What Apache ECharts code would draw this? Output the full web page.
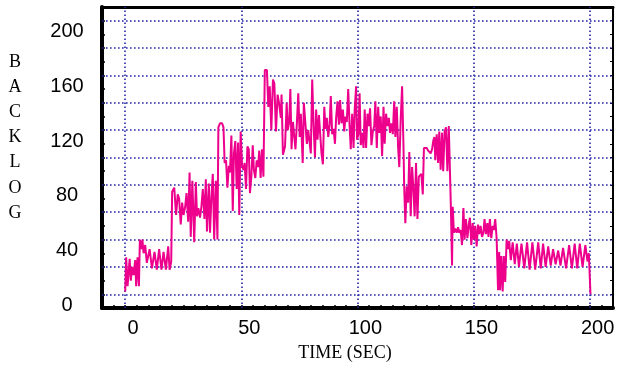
<!DOCTYPE html>
<html><head><meta charset="utf-8">
<script src="https://cdn.jsdelivr.net/npm/echarts@6/dist/echarts.min.js"></script>
<style>html,body{margin:0;padding:0;background:#fff}#c{width:620px;height:365px}</style>
</head><body><div id="c"></div>
<script>
// Time stamps (seconds)
const timeSec = [
0.0,0.4,1.0,1.9,2.4,3.0,3.6,4.3,4.7,5.3,5.9,6.3,
6.9,7.4,7.9,8.6,9.3,10.5,11.5,12.6,13.6,14.6,15.6,16.5,17.5,18.5,19.1,19.8,
20.2,21.1,21.9,22.6,23.2,23.9,24.5,25.1,25.8,26.4,27.1,27.7,28.2,28.9,29.7,30.4,30.9,31.5,32.2,32.8,33.4,34.1,34.7,35.2,36.0,36.5,37.1,37.7,38.3,39.0,39.7,
40.1,40.8,41.7,42.3,42.8,43.4,44.0,44.6,45.1,45.7,46.3,46.8,47.4,48.0,48.6,49.1,49.7,50.3,50.9,51.4,52.0,52.6,53.2,53.7,54.3,54.9,55.4,56.0,56.6,57.2,57.7,58.3,58.9,59.5,
60.1,61.0,61.6,62.2,62.9,63.6,64.2,64.9,65.6,66.2,67.0,67.3,67.9,68.8,69.5,70.0,70.6,71.1,71.6,72.2,72.8,73.3,73.9,74.5,75.1,75.6,76.4,76.9,77.6,78.2,78.8,79.4,79.9,
80.5,81.1,81.7,82.2,82.8,83.4,83.9,84.5,85.1,85.7,86.2,86.8,87.4,88.0,88.5,89.1,89.7,90.3,90.8,91.4,92.0,92.5,93.1,93.7,94.3,94.8,95.4,96.0,96.6,97.1,97.7,98.3,98.8,99.4,99.8,
100.4,100.9,101.4,102.0,102.6,103.1,103.7,104.3,104.9,105.4,106.0,106.6,107.2,107.7,108.3,108.9,109.4,110.0,110.6,111.2,111.7,112.3,112.9,113.5,114.0,114.6,115.2,115.8,116.3,116.9,117.5,118.0,118.6,119.2,119.8,
120.1,120.6,121.2,121.8,122.3,122.9,123.5,124.1,124.6,125.2,125.8,126.4,126.9,127.5,128.1,128.6,129.2,129.8,130.4,131.0,131.5,132.1,132.6,133.1,133.5,134.1,134.7,135.2,135.8,136.4,136.9,137.5,138.1,138.7,139.3,139.8,140.2,
140.7,141.0,141.5,142.1,142.7,143.3,143.8,144.4,145.0,145.6,146.1,146.7,147.3,147.9,148.4,149.0,149.6,150.1,150.7,151.3,151.9,152.4,153.0,153.6,154.2,154.7,155.3,155.9,156.4,157.0,157.6,158.2,158.7,159.3,159.9,
160.5,161.0,161.4,161.9,162.5,163.0,163.6,164.2,164.8,165.3,166.0,166.8,167.7,168.6,169.5,170.6,171.8,173.0,174.1,175.3,176.5,177.8,178.9,179.9,181.0,182.1,183.2,184.2,185.3,186.4,187.4,188.5,189.8,191.1,192.3,193.5,194.6,195.7,196.9,198.1,199.0,199.6,200.3
];
// Backlog values
const backlog = [
2,27,6,26,10,20,14,25,6,27,6,40,
33,40,30,36,23,33,19,31,18,33,18,31,18,35,18,24,
75,78,58,73,70,51,67,58,64,74,53,89,42,83,38,82,57,63,56,64,77,55,84,46,81,45,71,88,40,83,40,
122,125,125,122,96,98,78,94,89,116,61,103,112,77,111,58,119,94,91,96,77,108,106,74,86,109,91,85,98,93,105,85,106,86,
164,164,137,152,120,157,154,119,146,140,129,146,102,108,140,120,126,150,106,126,115,106,125,147,115,132,96,140,124,110,120,119,103,
157,123,100,135,113,131,118,103,95,137,121,129,115,124,145,117,121,110,129,141,124,142,125,135,119,130,126,150,123,106,132,107,135,152,113,
117,147,109,118,107,135,107,132,123,136,109,119,123,141,107,137,118,130,101,137,110,132,123,129,118,125,117,141,115,137,107,93,128,152,108,
79,52,79,67,104,57,93,76,57,96,55,86,87,88,73,107,106,107,105,106,103,106,112,115,98,117,96,119,91,118,90,119,122,90,123,90,64,
21,64,45,48,45,49,45,47,36,63,40,55,41,51,56,36,52,40,50,35,51,44,50,42,45,55,44,52,42,55,41,50,47,55,41,
3,31,3,28,2,28,9,40,33,39,25,38,22,37,20,37,19,38,18,38,18,38,19,37,20,35,21,33,22,32,21,34,19,36,19,37,19,37,20,36,24,30,0
];
const xTickLabels = [0, 50, 100, 150, 200];
const yTickLabels = [0, 40, 80, 120, 160, 200];
const xGridValues = [0, 50, 100, 150, 200];
const yGridValues = [0, 20, 40, 60, 80, 100, 120, 140, 160, 180, 200];
const xTitle = 'TIME (SEC)';
const yTitle = 'BACKLOG';

// layout: the reference draws its tick labels slightly offset from the grid lines
const X_MIN = -10, X_MAX = 210, Y_MIN = -10, Y_MAX = 210;
const X_LABEL_SHIFT = -3.4;   // axis units (labels appear ~8px right of grid lines)
const Y_LABEL_SHIFT = 8;      // axis units (labels appear ~11px below grid lines)

const seriesData = timeSec.map((t, i) => [t, backlog[i]]);
const gridStyle = { color: '#2424a8', width: 1.6, type: [1.6, 2.4] };
const markData = xGridValues.map(v => ({ xAxis: v })).concat(yGridValues.map(v => ({ yAxis: v })));
const font = 'Liberation Sans, Arial, sans-serif';
const noLine = { show: false, onZero: false };

const chart = echarts.init(document.getElementById('c'), null, { renderer: 'canvas' });
chart.setOption({
  animation: false,
  backgroundColor: '#ffffff',
  grid: { left: 102, width: 511, top: 7, height: 301, containLabel: false },
  xAxis: [
    { type: 'value', position: 'bottom', min: X_MIN, max: X_MAX, interval: 5,
      axisLine: { show: true, onZero: false, lineStyle: { color: '#000', width: 4 } },
      axisTick: { show: true, inside: true, length: 3, lineStyle: { color: '#000', width: 1.5 } },
      axisLabel: { show: false }, splitLine: { show: false } },
    { type: 'value', position: 'top', min: X_MIN, max: X_MAX,
      axisLine: { show: true, onZero: false, lineStyle: { color: '#000', width: 3 } },
      axisTick: { show: false }, axisLabel: { show: false }, splitLine: { show: false } },
    { type: 'value', position: 'bottom', min: X_MIN + X_LABEL_SHIFT, max: X_MAX + X_LABEL_SHIFT,
      axisLine: noLine, axisTick: { show: false }, splitLine: { show: false },
      axisLabel: { show: true, customValues: xTickLabels, color: '#000', fontSize: 20,
        fontFamily: font, margin: 10 } }
  ],
  yAxis: [
    { type: 'value', position: 'left', min: Y_MIN, max: Y_MAX, interval: 10,
      axisLine: { show: true, onZero: false, lineStyle: { color: '#000', width: 4 } },
      axisTick: { show: true, inside: true, length: 3, lineStyle: { color: '#000', width: 1.5 } },
      axisLabel: { show: false }, splitLine: { show: false } },
    { type: 'value', position: 'right', min: Y_MIN, max: Y_MAX, interval: 10,
      axisLine: { show: true, onZero: false, lineStyle: { color: '#000', width: 2 } },
      axisTick: { show: true, inside: true, length: 3, lineStyle: { color: '#000', width: 1 } },
      axisLabel: { show: false }, splitLine: { show: false } },
    { type: 'value', position: 'left', min: Y_MIN + Y_LABEL_SHIFT, max: Y_MAX + Y_LABEL_SHIFT,
      axisLine: noLine, axisTick: { show: false }, splitLine: { show: false },
      axisLabel: { show: true, customValues: yTickLabels, color: '#000', fontSize: 20,
        fontFamily: font, align: 'center', margin: 35 } }
  ],
  graphic: [
    { type: 'text', x: 345, y: 353, style: { text: xTitle, fill: '#000',
        font: '18px "Liberation Serif", "Times New Roman", serif', align: 'center', verticalAlign: 'middle' } },
    { type: 'text', x: 15, y: 137.5, style: { text: yTitle.split('').join('\n'), fill: '#000', lineHeight: 25.2,
        font: '18px "Liberation Serif", "Times New Roman", serif', align: 'center', verticalAlign: 'middle' } }
  ],
  series: [{
    type: 'line', xAxisIndex: 0, yAxisIndex: 0, data: seriesData, showSymbol: false, symbol: 'none',
    z: 3, lineStyle: { color: '#ec008c', width: 2 }, silent: true,
    markLine: { silent: true, z: 1, symbol: ['none', 'none'], label: { show: false },
      lineStyle: gridStyle, emphasis: { disabled: true }, animation: false, data: markData }
  }]
});
</script></body></html>
